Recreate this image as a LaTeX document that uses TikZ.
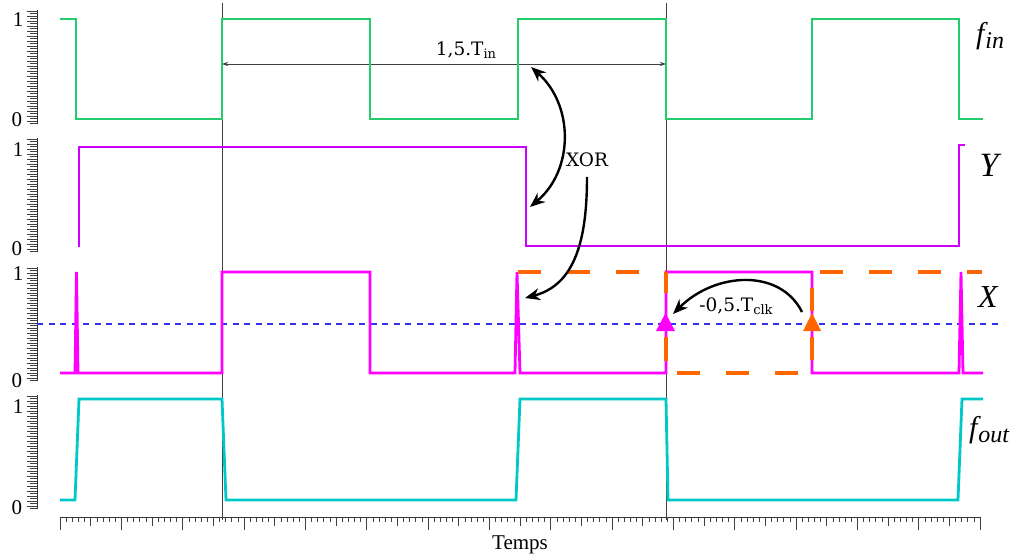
\documentclass[tikz,border=0pt]{standalone}
\usepackage{fontspec}
\setmainfont{Liberation Serif}
\newfontfamily\djs{DejaVu Serif}
\usetikzlibrary{arrows.meta}
\definecolor{cfin}{RGB}{35,205,110}
\definecolor{cY}{RGB}{204,0,255}
\definecolor{cX}{RGB}{255,0,255}
\definecolor{cfout}{RGB}{0,200,200}
\definecolor{corange}{RGB}{255,102,0}
\definecolor{cblue}{RGB}{51,51,238}
\newcommand{\fsz}[1]{\fontsize{#1}{#1}\selectfont}
\begin{document}
\begin{tikzpicture}[x=1pt,y=-1pt,
  wave/.style={line width=2.8pt,line join=miter},
  axisline/.style={line width=0.9pt,black!80},
  tickmark/.style={line width=0.6pt,black!75},
  guide/.style={line width=0.6pt,black!75},
  annot/.style={font=\djs\fsz{18.5}},
  numlab/.style={font=\fsz{21}},
  siglab/.style={font=\itshape\fsz{32}},
  odash/.style={corange,line width=4.2pt,dash pattern=on 23pt off 26pt},
  curvarrow/.style={line width=2.4pt,black,-{Stealth[length=15pt,width=12pt]}}]
\useasboundingbox (0,0) rectangle (1013,559);
% left axes
\foreach \tp in {10,138,267,395} {
  \draw[axisline] (37,\tp) -- (37,{\tp+114});
  \foreach \k in {0,...,45} {
    \pgfmathsetmacro{\L}{ifthenelse(mod(\k,2)==0,10,7)}
    \draw[tickmark] (37,{\tp+1+\k*2.5}) -- ++(-\L,0);
  }
}
\node[numlab] (p1a) at (18,20) {1};
\node[numlab] (p1b) at (17,120) {0};
\node[numlab] (p2a) at (18,150) {1};
\node[numlab] (p2b) at (17,249) {0};
\node[numlab] (p3a) at (18,274) {1};
\node[numlab] (p3b) at (17,381) {0};
\node[numlab] (p4a) at (18,407) {1};
\node[numlab] (p4b) at (17,508) {0};
% bottom axis
\draw[axisline] (60,517) -- (980,517);
\foreach \k in {0,...,150} {
  \pgfmathsetmacro{\L}{ifthenelse(mod(\k,10)==0,13,ifthenelse(mod(\k,5)==0,9,5))}
  \draw[tickmark] ({60+\k*6.13333},517) -- ++(0,\L);
}
\node[font=\fsz{21}] (temps) at (520,545) {Temps};
% guides
\coordinate (g1t) at (222,3); \coordinate (g1b) at (222,520);
\coordinate (g2t) at (666,3); \coordinate (g2b) at (666,520);
\draw[guide] (g1t) -- (g1b);
\draw[guide] (g2t) -- (g2b);
\coordinate (dimL) at (222,64); \coordinate (dimR) at (666,64);
\draw[guide,{Stealth[length=6pt,width=4pt]}-{Stealth[length=6pt,width=4pt]}] (dimL) -- (dimR);
\node[annot] (tin) at (466,50) {1,5.T\raisebox{-0.3ex}{\fsz{13}in}};
% blue threshold
\coordinate (bl) at (37,324); \coordinate (br) at (1003,324);
\draw[cblue,line width=2.2pt,dash pattern=on 6pt off 5.5pt] (bl) -- (br);
% waveforms
\draw[wave,cfin] (60,19) -- (76,19) -- (76,119) -- (222,119) -- (222,19) -- (370,19) -- (370,119) -- (518,119) -- (518,19) -- (666,19) -- (666,119) -- (812,119) -- (812,19) -- (959,19) -- (959,119) -- (983,119);
\draw[wave,cY] (79,247) -- (79,147) -- (526,147) -- (526,246) -- (959,246) -- (959,145) -- (965,145);
\draw[wave,cX] (60,373) -- (75,373) -- (76.5,272) -- (78,373) -- (222,373) -- (222,272) -- (370,272) -- (370,373) -- (515,373) -- (517,272) -- (520,373) -- (666,373) -- (666,272) -- (812,272) -- (812,373) -- (959,373) -- (961,272) -- (963,373) -- (983,373);
\draw[wave,cfout] (60,500) -- (75,500) -- (79,399) -- (222,399) -- (226,500) -- (516,500) -- (520,399) -- (666,399) -- (668,500) -- (958,500) -- (962,399) -- (983,399);
% orange dashed
\coordinate (o1) at (518,272); \coordinate (o2) at (666,272);
\coordinate (o3) at (666,373); \coordinate (o4) at (812,373);
\coordinate (o5) at (812,272); \coordinate (o6) at (982,272);
\draw[odash] (o1) -- (o2);
\draw[odash,dash pattern=on 21pt off 44pt on 24pt off 20pt] (o2) -- (o3);
\draw[odash,dash phase=38pt] (o3) -- (o4);
\draw[odash,dash phase=36pt] (o4) -- (o5);
\draw[odash,dash phase=41pt] (o5) -- (o6);
% triangles
\fill[cX] (656,331) -- (675,331) -- (665.5,313) -- cycle;
\fill[corange] (803,331) -- (821,331) -- (812,313) -- cycle;
% signal labels
\node[font=\itshape\fsz{30}] (lfin) at (990,36) {f\kern1pt\raisebox{-0.35ex}{\fsz{24}in}};
\node[font=\itshape\fsz{34}] (lY) at (989,165) {Y};
\node[siglab] (lX) at (988,297) {X};
\node[font=\itshape\fsz{30}] (lfout) at (989,430) {f\kern1pt\raisebox{-0.35ex}{\fsz{24}out}};
% XOR arrows
\node[annot] (xor) at (587,160) {XOR};
\coordinate (xa) at (531,67); \coordinate (xb) at (530,207);
\draw[line width=2.4pt,black,{Stealth[length=15pt,width=12pt]}-{Stealth[length=15pt,width=12pt]}] (xa) .. controls (574,105) and (574,170) .. (xb);
\coordinate (xs) at (587,177); \coordinate (xe) at (525,298);
\draw[curvarrow] (xs) .. controls (587,240) and (575,285) .. (xe);
% clk arrow
\node[annot] (tclk) at (736,306) {-0,5.T\raisebox{-0.3ex}{\fsz{13}clk}};
\coordinate (cs) at (802,312); \coordinate (ce) at (673,314);
\draw[curvarrow] (cs) .. controls (780,268) and (715,272) .. (ce);
\end{tikzpicture}
\end{document}
